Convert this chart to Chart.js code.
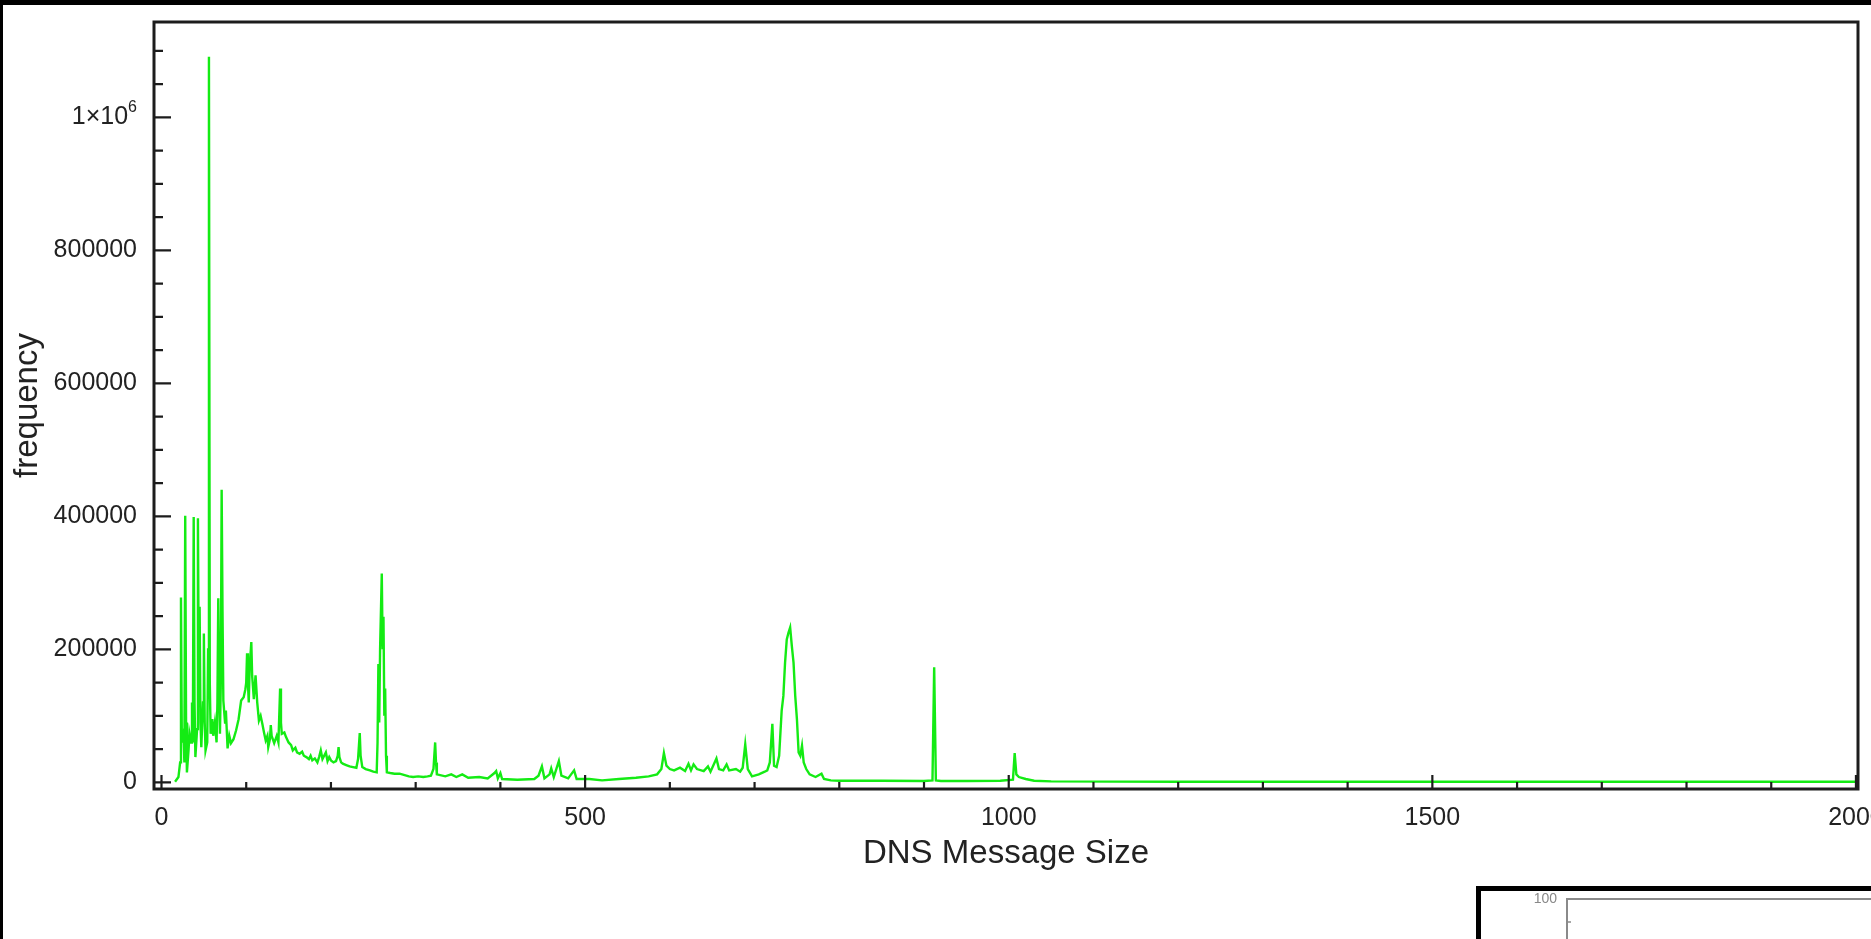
<!DOCTYPE html>
<html>
<head>
<meta charset="utf-8">
<title>DNS message sizes</title>
<script src="https://cdn.jsdelivr.net/npm/chart.js@4.4.1/dist/chart.umd.min.js"></script>
<style>
  html, body { margin: 0; padding: 0; background: #fff; overflow: hidden; }
  #page { position: relative; width: 1871px; height: 939px; overflow: hidden; background: #fff; }
  #edgeTop { position: absolute; left: 0; top: 0; width: 1871px; height: 5px; background: #000; }
  #edgeLeft { position: absolute; left: 0; top: 0; width: 3px; height: 939px; background: #000; }
  #main { position: absolute; left: 3px; top: 5px; }
  #inset { position: absolute; left: 1476px; top: 886px; width: 600px; height: 200px;
           border-top: 5px solid #000; border-left: 5px solid #000; background: #fff; }
  #insetChart { position: absolute; left: 0; top: 0; }
</style>
</head>
<body>
<div id="page">
  <canvas id="main" width="1900" height="934"></canvas>
  <div id="inset"><canvas id="insetChart" width="400" height="238"></canvas></div>
  <div id="edgeTop"></div>
  <div id="edgeLeft"></div>
</div>
<script>
// message size (bytes) and how often it was seen
const msgSizes = [
  16, 20, 22, 23, 24, 26, 27, 28, 29, 30, 32, 33, 35, 36, 37, 38, 39, 40, 42, 43,
  44, 45, 46, 47, 49, 50, 51, 52, 54, 55, 56, 57, 58, 60, 61, 63, 65, 66, 67, 68,
  69, 70, 71, 72, 73, 75, 76, 78, 80, 82, 85, 88, 91, 94, 97, 99, 100, 101, 102, 103,
  104, 106, 107, 109, 111, 113, 115, 117, 119, 121, 123, 125, 126, 128, 129, 130, 133, 136, 138, 140,
  141, 142, 145, 147, 150, 153, 155, 158, 160, 163, 166, 168, 171, 174, 176, 178, 181, 184, 186, 188,
  190, 192, 194, 196, 198, 200, 203, 206, 208, 209, 210, 212, 214, 218, 222, 226, 230, 232, 234, 235,
  237, 241, 246, 250, 254, 255, 256, 257, 258, 260, 261, 262, 263, 264, 265, 266, 270, 275, 281, 287,
  292, 297, 303, 309, 314, 318, 321, 323, 324, 325, 335, 342, 348, 355, 362, 375, 385, 393, 395, 397,
  400, 402, 420, 440, 445, 449, 452, 458, 460, 463, 469, 472, 480, 487, 490, 505, 520, 540, 560, 575,
  585, 590, 593, 596, 600, 605, 612, 618, 622, 625, 628, 632, 640, 645, 648, 655, 658, 663, 667, 670,
  678, 683, 686, 689, 692, 697, 705, 712, 715, 718, 721, 723, 726, 729, 732, 734, 736, 738, 740, 742,
  744, 746, 748, 750, 752, 754, 756, 758, 761, 765, 772, 779, 782, 790, 800, 850, 900, 910, 912, 914,
  920, 950, 990, 1005, 1007, 1009, 1012, 1020, 1030, 1050, 1200, 1500, 1800, 2000
];
const msgFreq = [
  1000, 8000, 30000, 278000, 60000, 74000, 30000, 401000, 90000, 15000, 50000, 74000, 60000, 120000, 60000, 399000, 120000, 38000, 80000, 397000,
  150000, 264000, 90000, 53000, 120000, 224000, 90000, 48000, 60000, 200000, 1091000, 150000, 73000, 95000, 70000, 90000, 60000, 120000, 277000, 150000,
  73000, 150000, 440000, 260000, 123000, 90000, 108000, 51000, 70000, 59000, 65000, 78000, 95000, 123000, 128000, 140000, 150000, 194000, 150000, 120000,
  170000, 211000, 160000, 125000, 161000, 120000, 93000, 100000, 88000, 75000, 63000, 70000, 53000, 65000, 86000, 70000, 59000, 70000, 60000, 141000,
  90000, 73000, 75000, 68000, 60000, 56000, 48000, 52000, 45000, 43000, 46000, 40000, 38000, 35000, 40000, 33000, 36000, 30000, 38000, 48000,
  35000, 40000, 45000, 32000, 38000, 33000, 30000, 32000, 40000, 53000, 38000, 30000, 28000, 26000, 24000, 23000, 22000, 35000, 74000, 40000,
  23000, 20000, 18000, 16000, 15000, 60000, 178000, 90000, 200000, 314000, 200000, 249000, 100000, 141000, 40000, 15000, 14000, 13000, 13000, 11000,
  9000, 8000, 9000, 8000, 9000, 10000, 20000, 60000, 30000, 12000, 9000, 12000, 8000, 12000, 7000, 8000, 6000, 14000, 17000, 6000,
  14000, 5000, 4000, 5000, 10000, 24000, 6000, 12000, 21000, 8000, 32000, 10000, 6000, 18000, 5000, 5000, 3000, 5000, 7000, 9000,
  12000, 20000, 44000, 25000, 20000, 18000, 22000, 17000, 28000, 18000, 27000, 20000, 17000, 24000, 16000, 36000, 20000, 18000, 27000, 18000,
  20000, 16000, 22000, 57000, 20000, 9000, 12000, 16000, 18000, 30000, 88000, 25000, 23000, 40000, 108000, 130000, 180000, 215000, 225000, 233000,
  205000, 180000, 130000, 95000, 45000, 40000, 55000, 30000, 20000, 12000, 8000, 13000, 5000, 3000, 2500, 2500, 2000, 3000, 173000, 3000,
  2000, 2000, 2500, 4000, 44000, 12000, 8000, 5000, 2500, 1500, 1000, 1000, 800, 800
];

const xTickValues = [0, 500, 1000, 1500, 2000];
const yTickValues = [0, 200000, 400000, 600000, 800000, 1000000];
const insetTickValues = [0, 20, 40, 60, 80, 100];

const fontFamily = "'Liberation Sans', Arial, Helvetica, sans-serif";
const lineColor = 'rgb(20, 235, 20)';
const textColor = '#222';

// box round the plot, tick marks drawn inward on the left and bottom axes
const axisFrame = {
  id: 'axisFrame',
  afterDraw(chart, args, o) {
    const { ctx, chartArea: a } = chart;
    const xs = chart.scales.x, ys = chart.scales.y;
    ctx.save();
    ctx.strokeStyle = o.color;
    ctx.lineWidth = o.tickWidth;
    ctx.beginPath();
    if (o.yMinorStep) {
      for (let v = Math.ceil(ys.min / o.yMinorStep) * o.yMinorStep; v <= ys.max; v += o.yMinorStep) {
        const len = o.yMajor.includes(v) ? o.yMajorLen : o.yMinorLen;
        const py = ys.getPixelForValue(v);
        ctx.moveTo(a.left, py);
        ctx.lineTo(a.left + len, py);
      }
    }
    if (o.xMinorStep) {
      for (let v = Math.ceil(xs.min / o.xMinorStep) * o.xMinorStep; v <= xs.max; v += o.xMinorStep) {
        const len = o.xMajor.includes(v) ? o.xMajorLen : o.xMinorLen;
        const px = xs.getPixelForValue(v);
        ctx.moveTo(px, a.bottom);
        ctx.lineTo(px, a.bottom - len);
      }
    }
    ctx.stroke();
    ctx.lineWidth = o.lineWidth;
    ctx.strokeRect(a.left, a.top, a.right - a.left, a.bottom - a.top);
    ctx.restore();
  }
};

// the 1e6 label written as 1×10 with a raised 6
const powerLabel = {
  id: 'powerLabel',
  afterDraw(chart, args, o) {
    const ys = chart.scales.y;
    const { ctx } = chart;
    const py = ys.getPixelForValue(o.value);
    const right = ys.right - o.padding;
    ctx.save();
    ctx.fillStyle = textColor;
    ctx.textBaseline = 'middle';
    ctx.font = o.expSize + 'px ' + fontFamily;
    const expW = ctx.measureText(o.exponent).width;
    ctx.textAlign = 'left';
    ctx.fillText(o.exponent, right - expW, py - o.raise);
    ctx.font = o.size + 'px ' + fontFamily;
    ctx.textAlign = 'right';
    ctx.fillText(o.mantissa, right - expW, py);
    ctx.restore();
  }
};

new Chart(document.getElementById('main'), {
  type: 'line',
  data: {
    datasets: [{
      data: msgSizes.map((s, i) => ({ x: s, y: msgFreq[i] })),
      borderColor: lineColor,
      borderWidth: 2.4,
      pointRadius: 0,
      tension: 0,
      fill: false
    }]
  },
  options: {
    responsive: false,
    animation: false,
    events: [],
    layout: { padding: { top: 17, right: 45, left: 0, bottom: 0 } },
    plugins: {
      legend: { display: false },
      tooltip: { enabled: false },
      axisFrame: {
        color: '#1c1c1c', lineWidth: 3, tickWidth: 2.2,
        yMajor: yTickValues, yMinorStep: 50000, yMajorLen: 17, yMinorLen: 9,
        xMajor: xTickValues, xMinorStep: 100, xMajorLen: 14, xMinorLen: 7
      },
      powerLabel: {
        value: 1000000, mantissa: '1×10', exponent: '6',
        size: 25, expSize: 16, raise: 10, padding: 17
      }
    },
    scales: {
      x: {
        type: 'linear',
        min: -8.85,
        max: 2002.4,
        afterBuildTicks: s => { s.ticks = xTickValues.map(v => ({ value: v })); },
        afterFit: s => { s.height = 150; },
        grid: { display: false, drawTicks: false },
        border: { display: false },
        ticks: {
          font: { family: fontFamily, size: 25 }, color: textColor,
          padding: 14, maxRotation: 0, autoSkip: false,
          callback: v => String(v)
        },
        title: {
          display: true, text: 'DNS Message Size', color: textColor,
          font: { family: fontFamily, size: 33 }, padding: { top: 0, bottom: 65 }
        }
      },
      y: {
        min: -10000,
        max: 1143400,
        afterBuildTicks: s => { s.ticks = yTickValues.map(v => ({ value: v })); },
        afterFit: s => { s.width = 151; s.paddingTop = 0; s.paddingBottom = 0; },
        grid: { display: false, drawTicks: false },
        border: { display: false },
        ticks: {
          font: { family: fontFamily, size: 25 }, color: textColor, padding: 17,
          callback: v => v === 1000000 ? '' : String(v)
        },
        title: {
          display: true, text: 'frequency', color: textColor,
          font: { family: fontFamily, size: 33 }, padding: { top: 5, bottom: 0 }
        }
      }
    }
  },
  plugins: [axisFrame, powerLabel]
});

// second, smaller plot below the first one
new Chart(document.getElementById('insetChart'), {
  type: 'line',
  data: { datasets: [] },
  options: {
    responsive: false,
    animation: false,
    events: [],
    layout: { padding: { top: 8, right: 0, left: 0, bottom: 0 } },
    plugins: {
      legend: { display: false },
      tooltip: { enabled: false },
      axisFrame: {
        color: '#8a8a8a', lineWidth: 2, tickWidth: 1.5,
        yMajor: insetTickValues, yMinorStep: 10, yMajorLen: 6, yMinorLen: 4,
        xMajor: [], xMinorStep: 0
      }
    },
    scales: {
      x: { type: 'linear', min: 0, max: 100, display: false },
      y: {
        min: 0,
        max: 100,
        afterBuildTicks: s => { s.ticks = insetTickValues.map(v => ({ value: v })); },
        afterFit: s => { s.width = 86; s.paddingTop = 0; s.paddingBottom = 0; },
        grid: { display: false, drawTicks: false },
        border: { display: false },
        ticks: { font: { family: fontFamily, size: 14 }, color: '#888', padding: 10 }
      }
    }
  },
  plugins: [axisFrame]
});
</script>
</body>
</html>
